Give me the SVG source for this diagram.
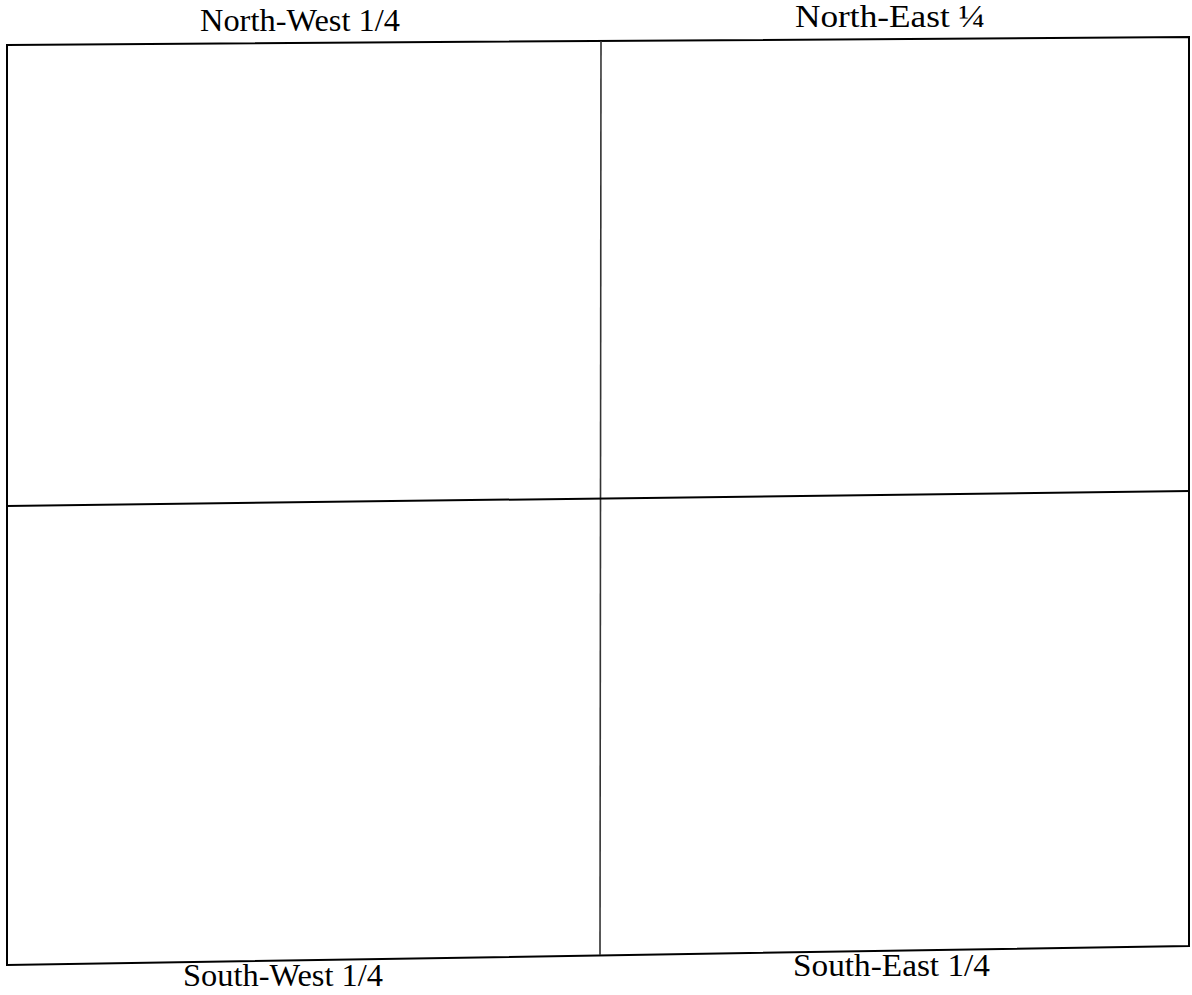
<svg xmlns="http://www.w3.org/2000/svg" width="1192" height="995" viewBox="0 0 1192 995">
<style>
.b{stroke:#000;stroke-width:2;fill:none;stroke-linecap:square}
.m{stroke:#333;stroke-width:1.6;fill:none}
.t{font-family:"Liberation Serif","Times New Roman",serif;font-size:31px;fill:#000}
</style>
<rect width="1192" height="995" fill="#fff"/>
<g id="frame">
<polygon class="b" points="7,45 1189,37 1189,946 7,965"/>
</g>
<g id="connectors">
<line class="m" x1="601" y1="41" x2="600" y2="955"/>
<line class="b" x1="7" y1="506" x2="1189" y2="491"/>
</g>
<g id="nw"><text class="t" x="200" y="31" textLength="200" lengthAdjust="spacingAndGlyphs">North-West 1/4</text></g>
<g id="ne"><text class="t" x="795" y="27" textLength="190" lengthAdjust="spacingAndGlyphs">North-East ¼</text></g>
<g id="sw"><text class="t" x="183" y="986" textLength="200" lengthAdjust="spacingAndGlyphs">South-West 1/4</text></g>
<g id="se"><text class="t" x="793" y="976" textLength="197" lengthAdjust="spacingAndGlyphs">South-East 1/4</text></g>
</svg>
